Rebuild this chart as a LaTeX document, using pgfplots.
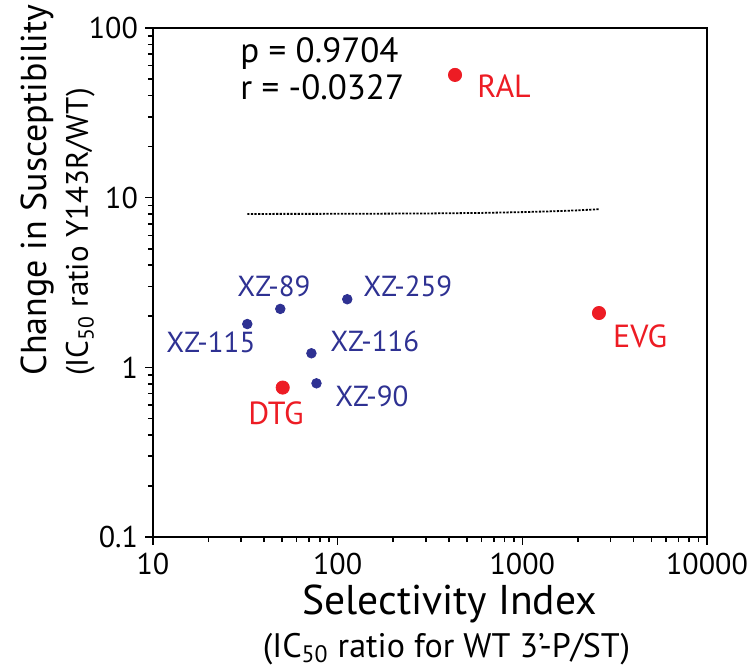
\documentclass[border=0pt]{standalone}
\usepackage{fontspec}
\setmainfont{PT Sans}
\usepackage{pgfplots}
\pgfplotsset{compat=1.18}
\definecolor{myred}{RGB}{237,28,36}
\definecolor{myblue}{RGB}{46,49,146}
\newcommand{\fs}[1]{\fontsize{#1}{#1}\selectfont}
\begin{document}
\begin{tikzpicture}
\begin{axis}[
  scale only axis, width=277pt, height=254.5pt,
  xmode=log, ymode=log,
  xmin=10, xmax=10000, ymin=0.1, ymax=100,
  xtick={10,100,1000,10000}, xticklabels={10,100,1000,10000},
  ytick={0.1,1,10,100}, yticklabels={0.1,1,10,100},
  minor xtick={20,30,40,50,60,70,80,90,200,300,400,500,600,700,800,900,2000,3000,4000,5000,6000,7000,8000,9000},
  minor ytick={0.2,0.3,0.4,0.5,0.6,0.7,0.8,0.9,2,3,4,5,6,7,8,9,20,30,40,50,60,70,80,90},
  xtick pos=left, ytick pos=left,
  tick align=outside,
  major tick length=4pt, minor tick length=2.6pt,
  axis line style={line width=0.9pt},
  tick style={black, line width=0.8pt},
  tick label style={font=\fs{15}},
  xticklabel style={yshift=-0.5pt},
  clip=false,
]
% tick marks on the bottom and left spines
\pgfplotsinvokeforeach{10,100,1000,10000}{\draw[line width=0.8pt] (axis cs:#1,0.1) -- ++(0pt,-4pt);}
\pgfplotsinvokeforeach{20,30,40,50,60,70,80,90,200,300,400,500,600,700,800,900,2000,3000,4000,5000,6000,7000,8000,9000}{\draw[line width=0.7pt] (axis cs:#1,0.1) -- ++(0pt,-2.6pt);}
\pgfplotsinvokeforeach{0.1,1,10,100}{\draw[line width=0.8pt] (axis cs:10,#1) -- ++(-4pt,0pt);}
\pgfplotsinvokeforeach{0.2,0.3,0.4,0.5,0.6,0.7,0.8,0.9,2,3,4,5,6,7,8,9,20,30,40,50,60,70,80,90}{\draw[line width=0.7pt] (axis cs:10,#1) -- ++(-2.6pt,0pt);}
% regression line
\addplot[black, line width=0.9pt, dash pattern=on 1.1pt off 0.7pt] coordinates {
 (32.4,8.02) (100,8.03) (300,8.07) (600,8.13) (1000,8.22) (1500,8.32) (2000,8.42) (2600,8.55)};
% XZ compounds
\addplot[only marks, mark=*, mark size=2.4pt, color=myblue] coordinates {
 (32.4,1.80) (48.9,2.21) (112.7,2.52) (72.1,1.21) (76.8,0.805)};
% reference drugs
\addplot[only marks, mark=*, mark size=3.3pt, color=myred] coordinates {
 (432,52.9) (2600,2.09) (50.4,0.76)};
% labels
\node[anchor=base west, inner sep=0, text=myblue, font=\fs{14.5}] at (axis cs:11.76,1.216) {XZ-115};
\node[anchor=base west, inner sep=0, text=myblue, font=\fs{14.5}] at (axis cs:28.5,2.60) {XZ-89};
\node[anchor=base west, inner sep=0, text=myblue, font=\fs{14.5}] at (axis cs:137.1,2.60) {XZ-259};
\node[anchor=base west, inner sep=0, text=myblue, font=\fs{14.5}] at (axis cs:90.8,1.232) {XZ-116};
\node[anchor=base west, inner sep=0, text=myblue, font=\fs{14.5}] at (axis cs:96.6,0.584) {XZ-90};
\node[anchor=base west, inner sep=0, text=myred, font=\fs{16}] at (axis cs:567.6,39.2) {RAL};
\node[anchor=base west, inner sep=0, text=myred, font=\fs{16}] at (axis cs:3090,1.301) {EVG};
\node[anchor=base west, inner sep=0, text=myred, font=\fs{16}] at (axis cs:32.7,0.458) {DTG};
\node[anchor=base west, inner sep=0, font=\fs{17.5}] at (axis cs:29.6,62.2) {p = 0.9704};
\node[anchor=base west, inner sep=0, font=\fs{17.5}] at (axis cs:29.6,37.7) {r = -0.0327};
\end{axis}
% axis labels (positions relative to axis box, 0.5pt per reference pixel)
\coordinate (O) at (current axis.south west); % pixel (153,537)
\node[anchor=base, inner sep=0, font=\fs{20.8}] at ([shift={(148.25pt,-39pt)}]O) {Selectivity Index};
\node[anchor=base, inner sep=0, font=\fs{17}] at ([shift={(146.75pt,-60.3pt)}]O) {(IC\textsubscript{50} ratio for WT 3’-P/ST)};
\node[anchor=base, inner sep=0, rotate=90, font=\fs{18}] at ([shift={(-53pt,173.5pt)}]O) {Change in Susceptibility};
\node[anchor=base, inner sep=0, rotate=90, font=\fs{15.5}] at ([shift={(-32.5pt,152.5pt)}]O) {(IC\textsubscript{50} ratio Y143R/WT)};
\pgfresetboundingbox
\path (O) ++(-76.5pt,-65.5pt) rectangle ++(378pt,334pt);
\end{tikzpicture}
\end{document}
